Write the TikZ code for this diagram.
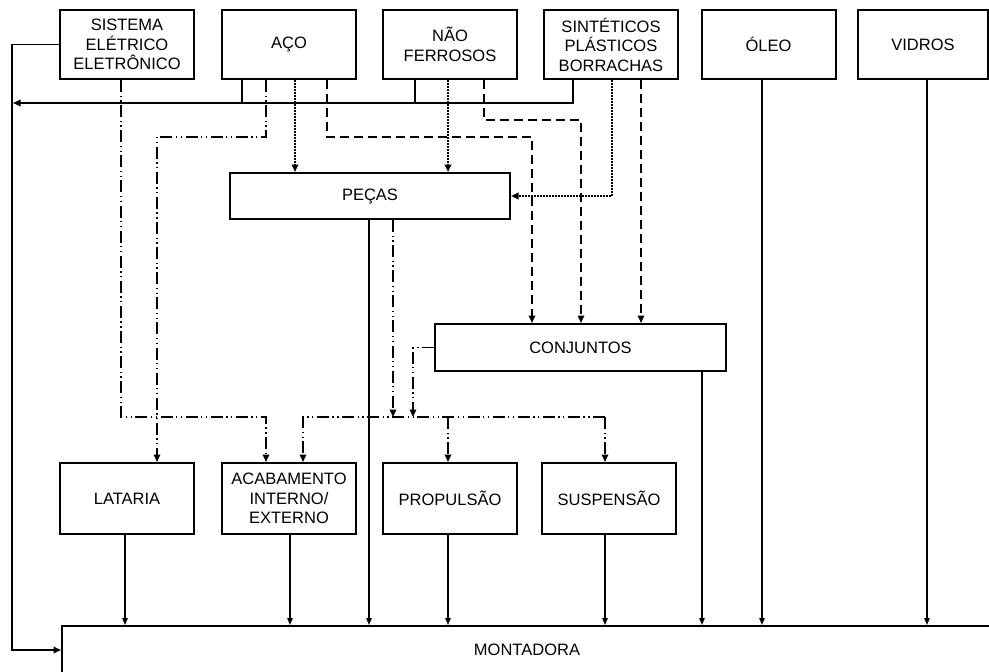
\documentclass[tikz,border=0pt]{standalone}
\usepackage{fontspec}
\setmainfont{Liberation Sans}
\usetikzlibrary{arrows.meta}
\begin{document}
\begin{tikzpicture}[x=1pt,y=-1pt,
  box/.style={draw, line width=2pt, align=center, inner sep=0pt, font=\fontsize{16.5}{19.5}\selectfont},
  topbox/.style={box, minimum width=134pt, minimum height=69pt},
  lowbox/.style={box, minimum width=134pt, minimum height=71pt},
  sol/.style={line width=1.8pt},
  thinarr/.style={line width=1.3pt, -{Triangle[length=7pt,width=5.5pt]}},
  arr/.style={-{Triangle[length=7.5pt,width=6.5pt]}},
  ddot/.style={line width=1.7pt, dash pattern=on 12pt off 3.5pt on 1.3pt off 3.5pt on 1.3pt off 3.5pt},
  dsh/.style={line width=1.7pt, dash pattern=on 9pt off 5pt},
  dtd/.style={line width=2pt, dash pattern=on 1.6pt off 1.4pt},
]
\fill[white] (0,0) rectangle (989,672);
\useasboundingbox (0,0) rectangle (989,672);

% top row
\node[topbox] (sis) at (127,44.5) {SISTEMA\\ELÉTRICO\\ELETRÔNICO};
\node[topbox] (aco) at (289,44.5) {AÇO};
\node[topbox] (nf) at (450,44.5) {NÃO\\FERROSOS};
\node[topbox] (sin) at (611,44.5) {SINTÉTICOS\\PLÁSTICOS\\BORRACHAS};
\node[topbox] (oleo) at (768.5,44.5) {ÓLEO};
\node[topbox, minimum width=130pt] (vid) at (923,44.5) {VIDROS};

% middle
\node[box, minimum width=280pt, minimum height=46pt] (pecas) at (370,196) {PEÇAS};
\node[box, minimum width=291pt, minimum height=47pt] (conj) at (580.5,347.5) {CONJUNTOS};

% lower row
\node[lowbox] (lat) at (127,498.5) {LATARIA};
\node[lowbox] (acab) at (289,498.5) {ACABAMENTO\\INTERNO/\\EXTERNO};
\node[lowbox] (prop) at (450,498.5) {PROPULSÃO};
\node[lowbox] (susp) at (609,498.5) {SUSPENSÃO};

% montadora
\node[box, minimum width=930pt, minimum height=48pt] (mont) at (527,650) {MONTADORA};

% junction coordinates
\coordinate (busend) at (13,103);

% feedback from sistema
\draw[sol,arr] (sis.west) -| (12,650) -- (mont.west);

% solid bus
\draw[sol,arr] (573,0 |- sin.south) -- (573,103) -- (busend);
\draw[sol] (242,0 |- aco.south) -- (242,103);
\draw[sol] (415,0 |- nf.south) -- (415,103);

% dash-dot-dot lines
\draw[ddot,arr] (121,0 |- sis.south) |- (266,417) -- (266,0 |- acab.north);
\draw[ddot,arr] (266,0 |- aco.south) |- (157,137) -- (157,0 |- lat.north);
\draw[ddot,arr] (393,0 |- pecas.south) -- (393,417);
\draw[ddot,arr] (conj.west) -| (413,417);
\draw[ddot,arr] (605,417) -- (303,417) -- (303,0 |- acab.north);
\draw[ddot,arr] (448,417) -- (448,0 |- prop.north);
\draw[ddot,arr] (605,417) -- (605,0 |- susp.north);

% dotted lines to PECAS
\draw[dtd,arr] (295,0 |- aco.south) -- (295,0 |- pecas.north);
\draw[dtd,arr] (448,0 |- nf.south) -- (448,0 |- pecas.north);
\draw[dtd,arr] (612,0 |- sin.south) |- (pecas.east);

% dashed lines to CONJUNTOS
\draw[dsh,arr] (327,0 |- aco.south) |- (532,137) -- (532,0 |- conj.north);
\draw[dsh,arr] (484,0 |- nf.south) |- (581,120) -- (581,0 |- conj.north);
\draw[dsh,arr] (641,0 |- sin.south) -- (641,0 |- conj.north);

% solid lines to MONTADORA
\draw[thinarr] (125,0 |- lat.south) -- (125,0 |- mont.north);
\draw[thinarr] (290,0 |- acab.south) -- (290,0 |- mont.north);
\draw[thinarr] (369,0 |- pecas.south) -- (369,0 |- mont.north);
\draw[thinarr] (448,0 |- prop.south) -- (448,0 |- mont.north);
\draw[thinarr] (605,0 |- susp.south) -- (605,0 |- mont.north);
\draw[thinarr] (702,0 |- conj.south) -- (702,0 |- mont.north);
\draw[thinarr] (762,0 |- oleo.south) -- (762,0 |- mont.north);
\draw[thinarr] (927,0 |- vid.south) -- (927,0 |- mont.north);
\end{tikzpicture}
\end{document}
